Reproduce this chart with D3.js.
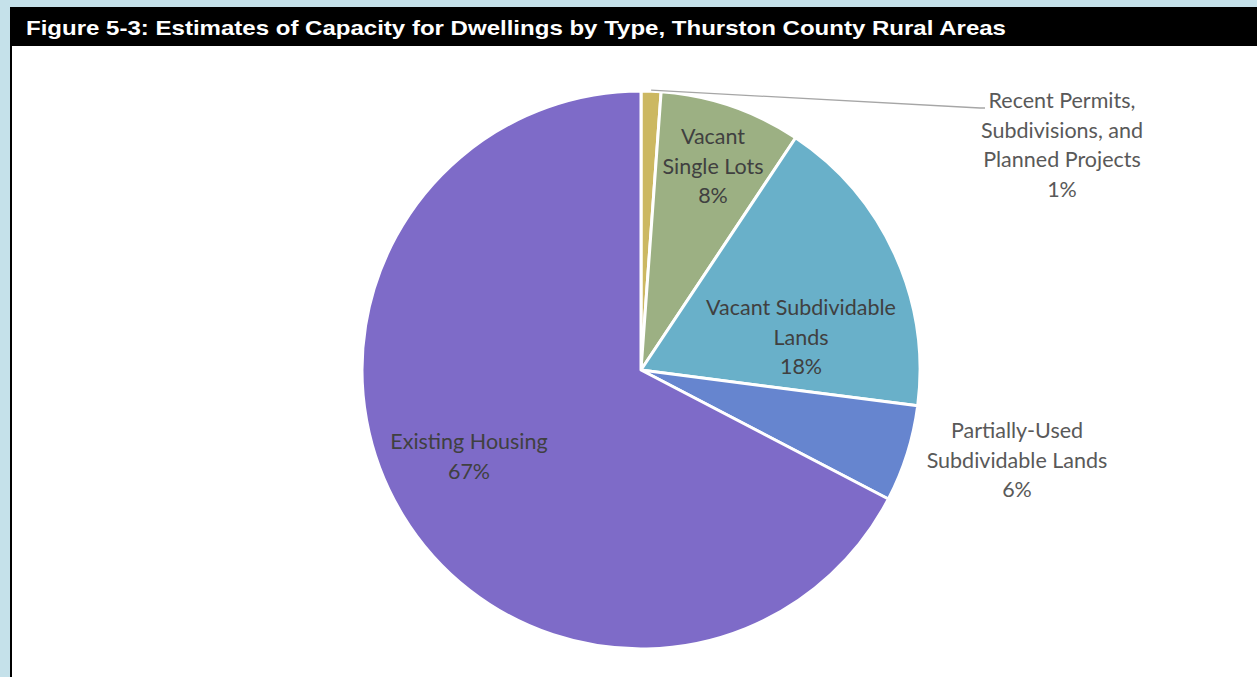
<!DOCTYPE html>
<html>
<head>
<meta charset="utf-8">
<script src="https://cdn.jsdelivr.net/npm/d3@7"></script>
<style>
  html, body { margin: 0; padding: 0; background: #c5e1ea; }
  svg { display: block; }
</style>
</head>
<body>
<svg id="chart" width="1257" height="677"></svg>
<script>
// ---- data ----
const categories = [
  "Recent Permits, Subdivisions, and Planned Projects",
  "Vacant Single Lots",
  "Vacant Subdividable Lands",
  "Partially-Used Subdividable Lands",
  "Existing Housing"
];
const values = [1.15, 8.2, 17.7, 5.6, 67.35];
const labelLines = [
  ["Recent Permits,", "Subdivisions, and", "Planned Projects"],
  ["Vacant", "Single Lots"],
  ["Vacant Subdividable", "Lands"],
  ["Partially-Used", "Subdividable Lands"],
  ["Existing Housing"]
];
const colors = ["#ccb862", "#9cb083", "#69b0c9", "#6685cf", "#7e6bc8"];
const title = "Figure 5-3: Estimates of Capacity for Dwellings by Type, Thurston County Rural Areas";

// ---- layout ----
const W = 1257, H = 677;
const cx = 641, cy = 370, R = 279;
// label anchor (center x, first baseline y) per slice
const labelPos = [[1062, 108], [713, 144], [801, 315], [1017, 438], [469, 449]];
const lineH = 29.5;

const svg = d3.select("#chart");

// frame
svg.append("rect").attr("x", 10).attr("y", 7).attr("width", W - 10).attr("height", H - 7).attr("fill", "#000");
svg.append("rect").attr("x", 12).attr("y", 46).attr("width", W - 12).attr("height", H - 46).attr("fill", "#fff");
svg.append("text").attr("x", 26).attr("y", 35)
  .attr("fill", "#fff").attr("font-family", "Liberation Sans, Arial, sans-serif")
  .attr("font-weight", "bold").attr("font-size", 21)
  .attr("textLength", 980).attr("lengthAdjust", "spacingAndGlyphs")
  .text(title);

const data = categories.map((c, i) => ({ name: c, value: values[i], lines: labelLines[i], color: colors[i], pos: labelPos[i] }));
const total = d3.sum(values);

const pie = d3.pie().value(d => d.value).sort(null);
const arc = d3.arc().innerRadius(0).outerRadius(R);
const arcs = pie(data);

const g = svg.append("g").attr("transform", `translate(${cx},${cy})`);
g.selectAll("path").data(arcs).join("path")
  .attr("d", arc)
  .attr("fill", d => d.data.color)
  .attr("stroke", "#fff")
  .attr("stroke-width", 3)
  .attr("stroke-linejoin", "round");

// leader line for the small slice
const a0 = arcs[0];
const mid = (a0.startAngle + a0.endAngle) / 2;
const p0 = [Math.sin(mid) * (R + 1), -Math.cos(mid) * (R + 1)];
g.append("polyline")
  .attr("points", [[p0[0], p0[1]], [980 - cx, 108 - cy], [985 - cx, 108 - cy]].map(p => p.join(",")).join(" "))
  .attr("fill", "none").attr("stroke", "#a6a6a6").attr("stroke-width", 1.3);

// labels
const font = "Lato, 'Open Sans', sans-serif";
arcs.forEach((d, i) => {
  const fill = (i === 0 || i === 3) ? "#595959" : "#404040";
  const t = svg.append("text")
    .attr("text-anchor", "middle")
    .attr("font-family", font)
    .attr("font-size", 21.5)
    .attr("fill", fill);
  const lines = d.data.lines.concat([Math.round(d.data.value / total * 100) + "%"]);
  lines.forEach((ln, k) => {
    t.append("tspan").attr("x", d.data.pos[0]).attr("y", d.data.pos[1] + k * lineH).text(ln);
  });
});
</script>
</body>
</html>
